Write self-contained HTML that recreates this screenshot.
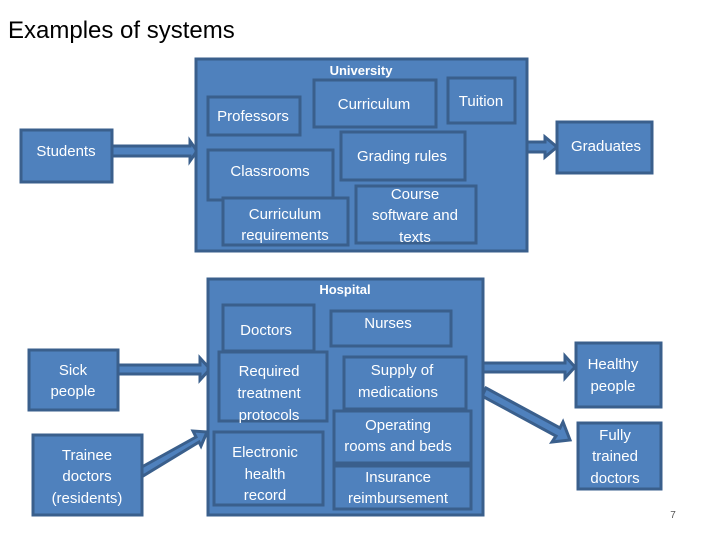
<!DOCTYPE html>
<html><head><style>
html,body{margin:0;padding:0;background:#fff;}
svg text{font-family:"Liberation Sans",sans-serif;fill:#fff;font-size:15px;text-anchor:middle;}
</style></head><body>
<svg width="720" height="540" viewBox="0 0 720 540" xmlns="http://www.w3.org/2000/svg">
<text x="8" y="38" style="fill:#000;font-size:24px;text-anchor:start">Examples of systems</text>
<g fill="#4f81bd" stroke="#3a5f8c" stroke-width="3">
<polygon points="111,146 190,146 190,141 197,151 190,161 190,156 111,156"/>
<polygon points="527,142 545,142 545,137 557,147 545,157 545,152 527,152"/>
<rect x="196" y="59" width="331" height="192"/>
<rect x="21" y="130" width="91" height="52"/>
<rect x="557" y="122" width="95" height="51"/>
<rect x="208" y="97" width="92" height="38"/>
<rect x="314" y="80" width="122" height="47"/>
<rect x="448" y="78" width="67" height="45"/>
<rect x="208" y="150" width="125" height="50"/>
<rect x="341" y="132" width="124" height="48"/>
<rect x="223" y="198" width="125" height="47"/>
<rect x="356" y="186" width="120" height="57"/>
<polygon points="118,365 200,365 200,358 210,369 200,380 200,374 118,374"/>
<polygon points="140,468 196,437 193,431 207,432 201,446 199,442 143,476"/>
<polygon points="483,363 565,363 565,356 575,367 565,378 565,372 483,372"/>
<polygon points="486,388 560,428 563,422 570,440 552,442 556,436 482,396"/>
<rect x="208" y="279" width="275" height="236"/>
<rect x="29" y="350" width="89" height="60"/>
<rect x="33" y="435" width="109" height="80"/>
<rect x="576" y="343" width="85" height="64"/>
<rect x="578" y="423" width="83" height="66"/>
<rect x="223" y="305" width="91" height="46"/>
<rect x="331" y="311" width="120" height="35"/>
<rect x="219" y="352" width="108" height="69"/>
<rect x="344" y="357" width="122" height="52"/>
<rect x="214" y="432" width="109" height="73"/>
<rect x="334" y="411" width="137" height="52"/>
<rect x="334" y="466" width="137" height="43"/>
</g>
<text x="361" y="75" style="font-weight:bold;font-size:13px">University</text>
<text x="253" y="121">Professors</text>
<text x="374" y="109">Curriculum</text>
<text x="481" y="106">Tuition</text>
<text x="66" y="156">Students</text>
<text x="606" y="151">Graduates</text>
<text x="270" y="176">Classrooms</text>
<text x="402" y="161">Grading rules</text>
<text x="285" y="219">Curriculum</text>
<text x="285" y="240">requirements</text>
<text x="415" y="199">Course</text>
<text x="415" y="220">software and</text>
<text x="415" y="242">texts</text>
<text x="345" y="294" style="font-weight:bold;font-size:13px">Hospital</text>
<text x="266" y="335">Doctors</text>
<text x="388" y="328">Nurses</text>
<text x="73" y="375">Sick</text>
<text x="73" y="396">people</text>
<text x="87" y="460">Trainee</text>
<text x="87" y="481">doctors</text>
<text x="87" y="503">(residents)</text>
<text x="613" y="369">Healthy</text>
<text x="613" y="391">people</text>
<text x="615" y="440">Fully</text>
<text x="615" y="461">trained</text>
<text x="615" y="483">doctors</text>
<text x="269" y="376">Required</text>
<text x="269" y="398">treatment</text>
<text x="269" y="420">protocols</text>
<text x="402" y="375">Supply of</text>
<text x="398" y="397">medications</text>
<text x="265" y="457">Electronic</text>
<text x="265" y="479">health</text>
<text x="265" y="500">record</text>
<text x="398" y="430">Operating</text>
<text x="398" y="451">rooms and beds</text>
<text x="398" y="482">Insurance</text>
<text x="398" y="503">reimbursement</text>
<text x="673" y="518" style="fill:#555;font-size:10px">7</text>
</svg>
</body></html>
